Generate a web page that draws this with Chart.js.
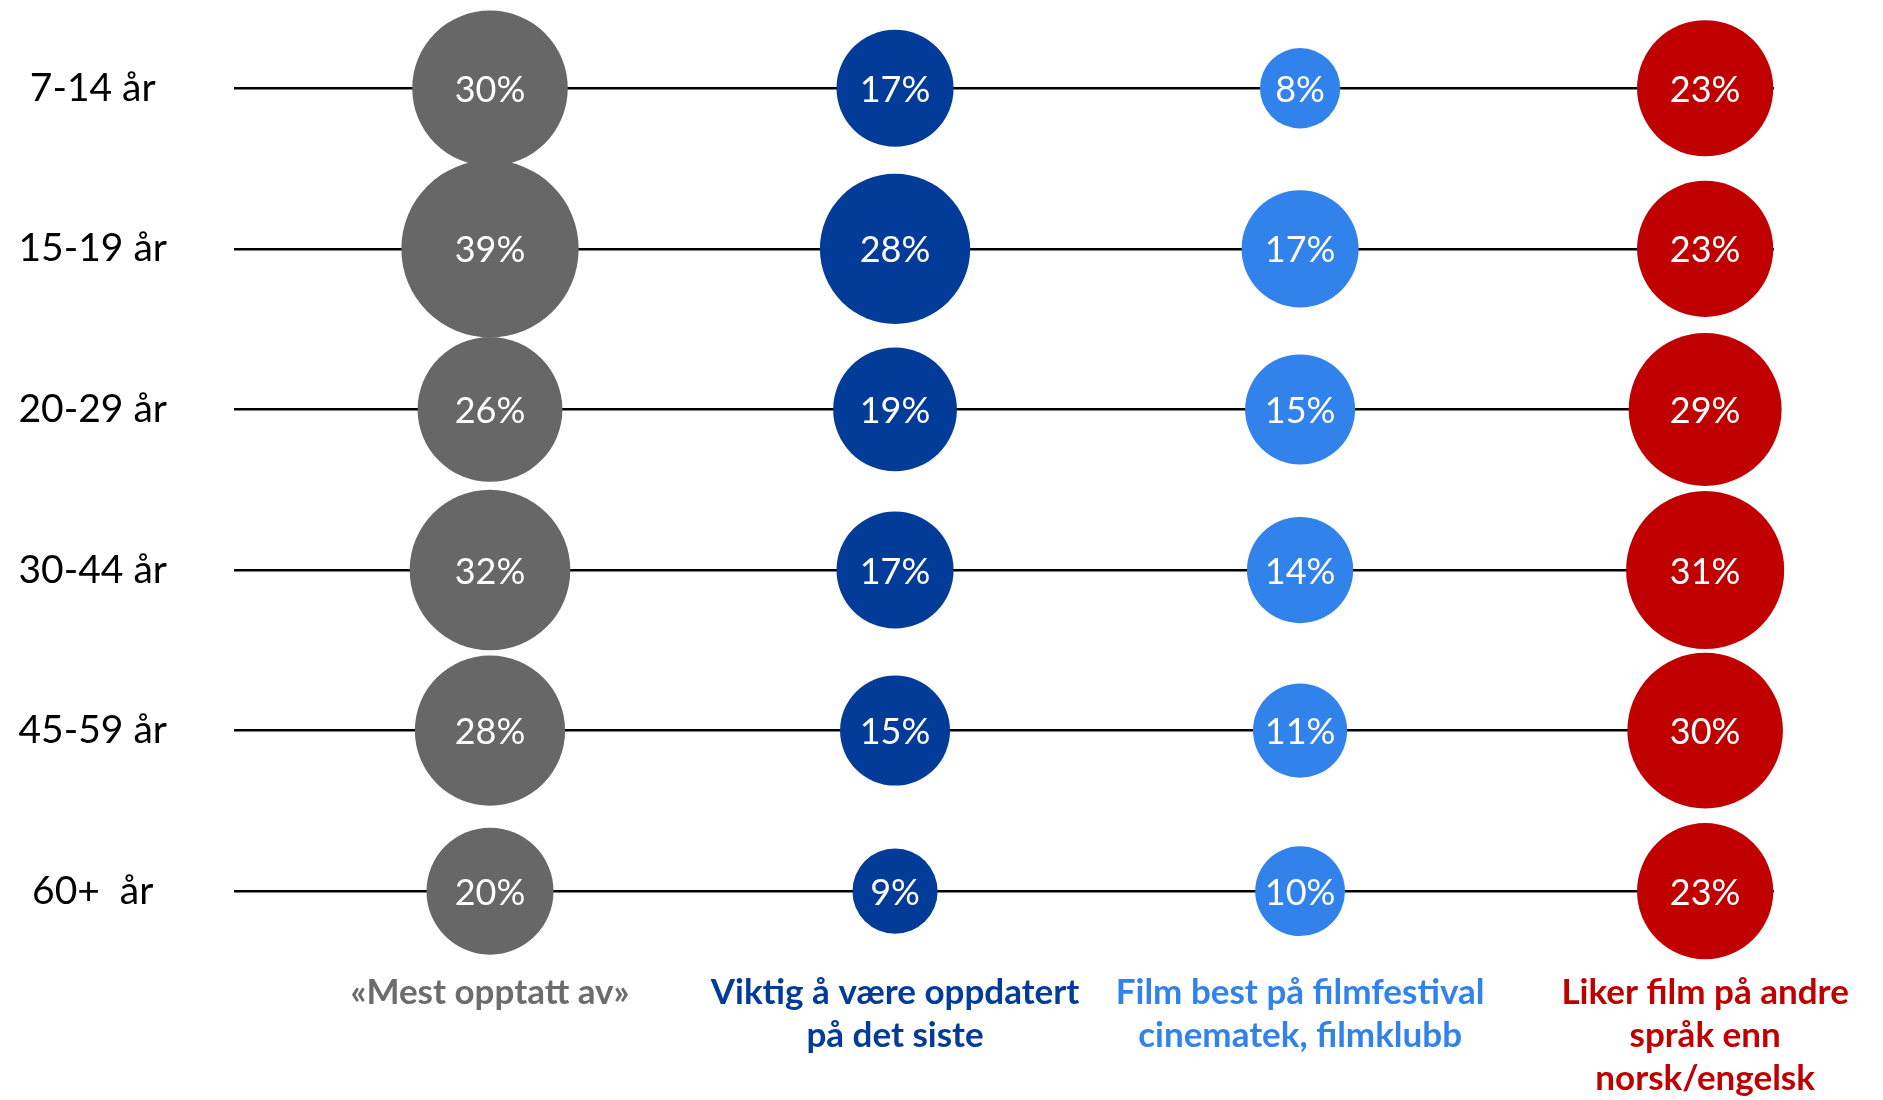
<!DOCTYPE html>
<html lang="no">
<head>
    <meta charset="UTF-8">
    <title>Mest opptatt av - aldersgrupper</title>
    <script src="https://cdn.jsdelivr.net/npm/chart.js"></script>
    <style>
        html, body { margin: 0; padding: 0; background: #ffffff; }
        .chart-wrap { width: 1883px; height: 1100px; position: relative; }
    </style>
</head>
<body>
    <div class="chart-wrap">
        <canvas id="bubbleChart"></canvas>
    </div>

    <script>
        // data
        const ageGroups = ['7-14 år', '15-19 år', '20-29 år', '30-44 år', '45-59 år', '60+  år'];
        const categories = [
            ['«Mest opptatt av»'],
            ['Viktig å være oppdatert', 'på det siste'],
            ['Film best på filmfestival', 'cinematek, filmklubb'],
            ['Liker film på andre', 'språk enn', 'norsk/engelsk']
        ];
        const mestOpptatt = [30, 39, 26, 32, 28, 20];
        const viktigOppdatert = [17, 28, 19, 17, 15, 9];
        const filmfestival = [8, 17, 15, 14, 11, 10];
        const andreSprak = [23, 23, 29, 31, 30, 23];

        const seriesColors = ['#676767', '#033c98', '#3282ec', '#c00000'];
        const labelColors = ['#6c6c6c', '#033c98', '#3282ec', '#c00000'];
        const allSeries = [mestOpptatt, viktigOppdatert, filmfestival, andreSprak];

        // bubble area proportional to value
        const sizeFactor = 14.2;

        const datasets = allSeries.map((values, col) => ({
            label: categories[col].join(' '),
            data: values.map((v, row) => ({ x: col, y: row, r: sizeFactor * Math.sqrt(v), v: v })),
            backgroundColor: seriesColors[col],
            borderWidth: 0,
            hoverBorderWidth: 0,
            clip: false
        }));

        const valueLabels = {
            id: 'valueLabels',
            afterDatasetsDraw(chart) {
                const c = chart.ctx;
                c.save();
                c.fillStyle = '#ffffff';
                c.font = '36px Lato';
                c.textAlign = 'center';
                c.textBaseline = 'middle';
                chart.data.datasets.forEach((ds, i) => {
                    chart.getDatasetMeta(i).data.forEach((el, j) => {
                        c.fillText(ds.data[j].v + '%', el.x, el.y + 2);
                    });
                });
                c.restore();
            }
        };

        const ctx = document.getElementById('bubbleChart').getContext('2d');
        new Chart(ctx, {
            type: 'bubble',
            data: { datasets: datasets },
            options: {
                responsive: true,
                maintainAspectRatio: false,
                animation: false,
                layout: {
                    autoPadding: false,
                    padding: { top: 24, right: 109, bottom: 0, left: 0 }
                },
                plugins: {
                    legend: { display: false },
                    tooltip: { enabled: false }
                },
                scales: {
                    x: {
                        type: 'linear',
                        min: -0.632,
                        max: 3.17,
                        afterBuildTicks: (scale) => {
                            scale.ticks = categories.map((c, i) => ({ value: i }));
                        },
                        afterFit: (scale) => { scale.height = 128.5; },
                        grid: { display: false, drawTicks: false },
                        border: { display: false },
                        ticks: {
                            autoSkip: false,
                            maxRotation: 0,
                            padding: 0,
                            font: { family: 'Lato', size: 35, weight: 'bold', lineHeight: 1.23 },
                            color: (c) => labelColors[c.index],
                            callback: (v) => categories[v]
                        }
                    },
                    y: {
                        type: 'linear',
                        reverse: true,
                        min: -0.4,
                        max: 5.5,
                        afterBuildTicks: (scale) => {
                            scale.ticks = ageGroups.map((a, i) => ({ value: i }));
                        },
                        afterFit: (scale) => { scale.width = 234; },
                        grid: {
                            color: '#000000',
                            lineWidth: 2.5,
                            drawTicks: true,
                            tickLength: 67,
                            tickColor: 'rgba(0,0,0,0)'
                        },
                        border: { display: false },
                        ticks: {
                            autoSkip: false,
                            padding: 0,
                            crossAlign: 'center',
                            font: { family: 'Lato', size: 39, lineHeight: 1.2 },
                            color: '#000000',
                            callback: (v) => ageGroups[v]
                        }
                    }
                }
            },
            plugins: [valueLabels]
        });
    </script>
</body>
</html>
